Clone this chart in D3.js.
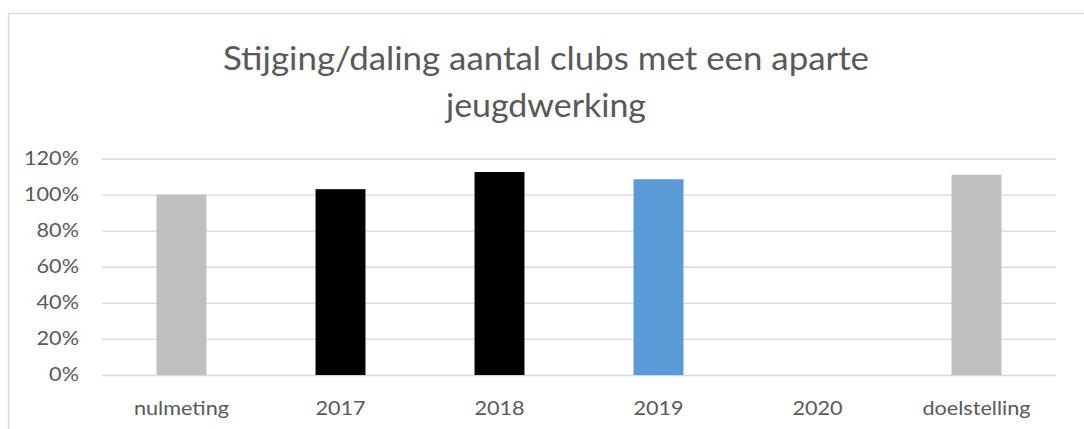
<!DOCTYPE html>
<html><head><meta charset="utf-8">
<script src="https://cdn.jsdelivr.net/npm/d3@7"></script>
<style>
body{margin:0;background:#fff;}
text{font-family:"Lato","Open Sans",sans-serif;}
</style></head>
<body><svg id="c" width="1084" height="429"></svg>
<script>
const categories = ["nulmeting","2017","2018","2019","2020","doelstelling"];
const values = [100, 103, 112.5, 108.5, null, 111];
const colors = ["#BFBFBF","#000000","#000000","#5B9BD5","#5B9BD5","#BFBFBF"];
const yTicks = [0,20,40,60,80,100,120];
const titleLines = ["Stijging/daling aantal clubs met een aparte","jeugdwerking"];

(function(){
const svg = d3.select("#c");
svg.append("rect").attr("x",8.5).attr("y",13.5).attr("width",1090).attr("height",430)
  .attr("fill","#fff").attr("stroke","#D9D9D9").attr("stroke-width",1.5);

const pL=102, pR=1056, pT=158.5, pB=375;
const sx = 1.17;
const x = d3.scaleBand().domain(categories).range([pL,pR]).paddingInner(0.686).paddingOuter(0.343);
const y = d3.scaleLinear().domain([0,120]).range([pB,pT]);

const g = svg.append("g");
const yAxis = d3.axisLeft(y).tickValues(yTicks).tickSize(-(pR-pL)).tickFormat(d=>d+"%");
const ya = g.append("g").attr("transform",`translate(${pL},0)`).call(yAxis);
ya.select(".domain").remove();
ya.selectAll(".tick line").attr("stroke","#D9D9D9").attr("stroke-width",1.3);
ya.selectAll(".tick text").attr("x",-23/sx).attr("transform",`scale(${sx},1)`)
  .attr("fill","#595959").style("font-size","18.5px");

const xAxis = d3.axisBottom(x).tickSize(0);
const xa = g.append("g").attr("transform",`translate(0,${pB})`).call(xAxis);
xa.select(".domain").remove();
xa.selectAll(".tick text").attr("dy","0").attr("y",40).attr("transform",`scale(${sx},1)`)
  .attr("fill","#595959").style("font-size","18.5px");

g.selectAll("rect.bar").data(categories.map((c,i)=>({c,v:values[i],col:colors[i]})).filter(d=>d.v!=null))
  .enter().append("rect").attr("class","bar")
  .attr("x",d=>x(d.c)).attr("width",x.bandwidth())
  .attr("y",d=>y(d.v)).attr("height",d=>y(0)-y(d.v)).attr("fill",d=>d.col);

const tw = [646, 200];
svg.append("g").selectAll("text").data(titleLines).enter().append("text")
  .attr("x",546).attr("y",(d,i)=>70+i*47).attr("text-anchor","middle")
  .attr("textLength",(d,i)=>tw[i]).attr("lengthAdjust","spacingAndGlyphs")
  .attr("fill","#595959").style("font-size","33px").text(d=>d);
})();
</script></body></html>
